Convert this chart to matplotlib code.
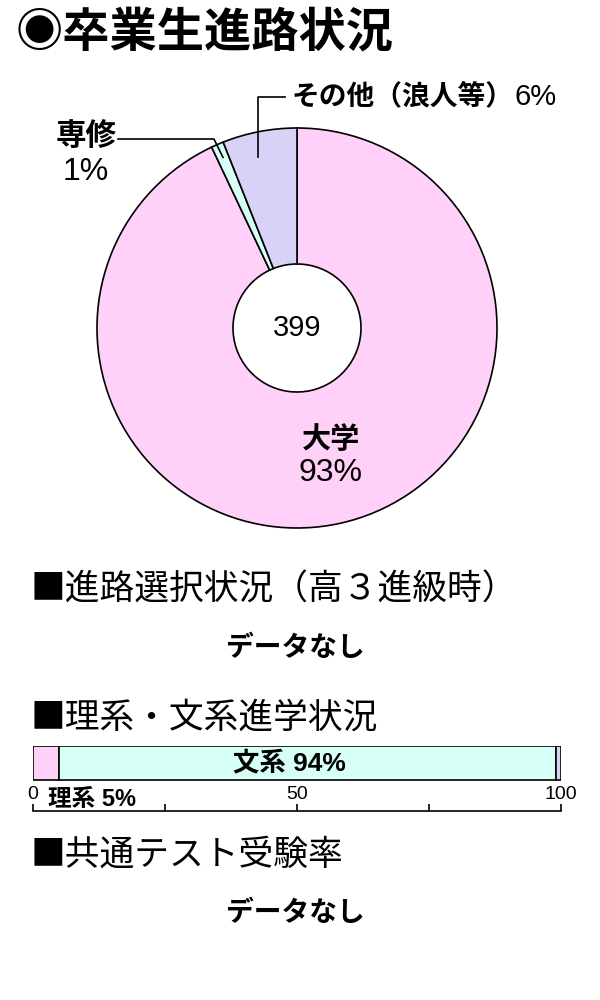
import numpy as np
import matplotlib
matplotlib.use("Agg")
import matplotlib.pyplot as plt

FONTS = ['Liberation Sans', 'Noto Sans CJK JP', 'DejaVu Sans']
CJK = ['Noto Sans CJK JP', 'DejaVu Sans']
plt.rcParams['font.family'] = FONTS

# ---- data ----
title = "◉卒業生進路状況"
pie_labels = ["大学", "専修", "その他（浪人等）"]
pie_values = [371, 4, 24]
pie_total = 399
pie_pcts = ["93%", "1%", "6%"]
pie_colors = ["#FFD0F8", "#D6FFF6", "#D8D2F6"]

bar_labels = ["理系", "文系", "その他"]
bar_values = [5, 94, 1]
bar_colors = ["#FFD0F8", "#D6FFF6", "#D8D2F6"]
bar_ticks = [0, 25, 50, 75, 100]
bar_ticklabels = ["0", "", "50", "", "100"]

heading1 = "■進路選択状況（高３進級時）"
heading2 = "■理系・文系進学状況"
heading3 = "■共通テスト受験率"
nodata = "データなし"

W, H = 600, 1000
fig = plt.figure(figsize=(6, 10), dpi=100)

# ---- pie ----
CX, CY, R = 297, 328, 200   # pixels (top-down y)
half = 1.1 * R
axp = fig.add_axes([(CX - half) / W, 1 - (CY + half) / H, 2 * half / W, 2 * half / H])
axp.pie(pie_values, startangle=90, counterclock=False, colors=pie_colors, radius=1,
        wedgeprops=dict(width=0.68, edgecolor='black', linewidth=1.2))
axp.set_xlim(-1.1, 1.1)
axp.set_ylim(-1.1, 1.1)
axp.set_aspect('auto')
axp.axis('off')

# overlay in pixel coordinates
ov = fig.add_axes([0, 0, 1, 1], zorder=5)
ov.set_xlim(0, W)
ov.set_ylim(H, 0)
ov.axis('off')

def anchor(i, rfrac):
    cum = sum(pie_values[:i]) + pie_values[i] / 2
    th = 2 * np.pi * cum / sum(pie_values)
    return CX + R * rfrac * np.sin(th), CY - R * rfrac * np.cos(th)

ov.text(16, 33, title, fontsize=34, fontweight='bold', va='center', ha='left', family=CJK)

# centre total
ov.text(CX, CY, str(pie_total), fontsize=21, ha='center', va='center')

# 大学
ov.text(331, 440, pie_labels[0], fontsize=21, fontweight='bold', ha='center', va='center')
ov.text(331, 473, pie_pcts[0], fontsize=23, ha='center', va='center')

# 専修
ax_, ay_ = anchor(1, 0.93)
ov.plot([ax_, ax_ - 9, 118], [ay_, 139, 139], color='black', lw=1.2)
ov.text(86, 137, pie_labels[1], fontsize=22, fontweight='bold', ha='center', va='center')
ov.text(86, 172, pie_pcts[1], fontsize=23, ha='center', va='center')

# その他
bx_, by_ = anchor(2, 0.87)
ov.plot([bx_ - 6, bx_ - 6, 285], [by_, 97, 97], color='black', lw=1.2)
t = ov.text(292, 97, pie_labels[2], fontsize=20, fontweight='bold',
            ha='left', va='center')
fig.canvas.draw()
bb = t.get_window_extent()
x_end = ov.transData.inverted().transform((bb.x1, bb.y0))[0]
ov.text(x_end + 1, 97, pie_pcts[2], fontsize=21, ha='left', va='center')

# headings
ov.text(31, 590, heading1, fontsize=25, ha='left', va='center', family=CJK)
ov.text(295, 648, nodata, fontsize=20, fontweight='bold', ha='center', va='center', family=CJK)
ov.text(31, 718, heading2, fontsize=25, ha='left', va='center', family=CJK)
ov.text(31, 855, heading3, fontsize=25, ha='left', va='center', family=CJK)
ov.text(295, 913, nodata, fontsize=20, fontweight='bold', ha='center', va='center', family=CJK)

# ---- stacked bar ----
bx0, bx1, by0, by1 = 33, 561, 746, 811
axb = fig.add_axes([bx0 / W, 1 - by1 / H, (bx1 - bx0) / W, (by1 - by0) / H])
left = 0
for v, c in zip(bar_values, bar_colors):
    axb.barh(0.74, v, left=left, height=0.52, color=c, edgecolor='black', linewidth=1.2)
    left += v
axb.set_xlim(0, 100)
axb.set_ylim(0, 1)
for s in ['left', 'right', 'top']:
    axb.spines[s].set_visible(False)
axb.spines['bottom'].set_linewidth(1.2)
axb.set_yticks([])
axb.set_xticks(bar_ticks, bar_ticklabels)
axb.tick_params(axis='x', direction='in', length=5, width=1.2, pad=-18, labelsize=14)
axb.text(48.5, 0.74, f"{bar_labels[1]} {bar_values[1]}%",
         fontsize=19, fontweight='bold', ha='center', va='center')
axb.text(2.8, 0.17, f"{bar_labels[0]} {bar_values[0]}%", fontsize=17, fontweight='bold',
         ha='left', va='center')

fig.savefig("out.png", dpi=100, facecolor='white')
